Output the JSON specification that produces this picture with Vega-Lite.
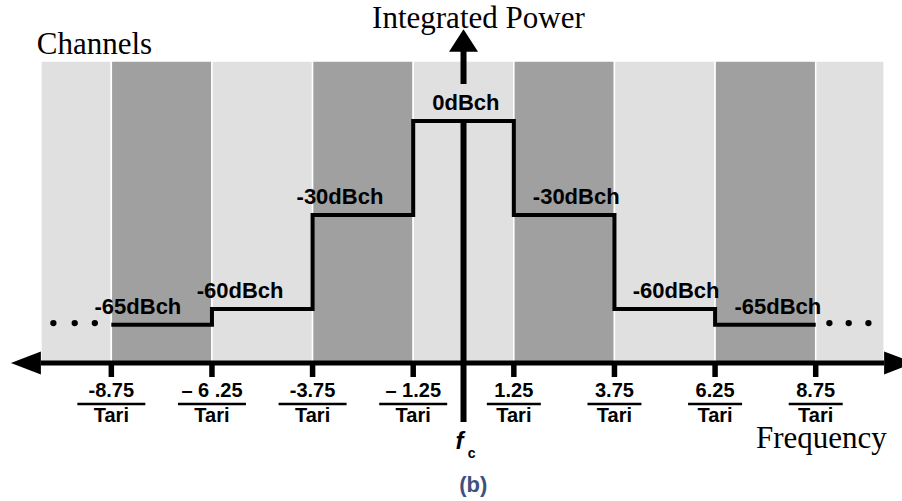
{
  "$schema": "https://vega.github.io/schema/vega-lite/v6.json",
  "width": 902,
  "height": 501,
  "padding": 0,
  "autosize": {"type": "none"},
  "background": "white",
  "config": {"view": {"stroke": null}},
  "datasets": {
    "channels": [
      {"f0": -10.5, "f1": -8.75, "shade": "light"},
      {"f0": -8.75, "f1": -6.25, "shade": "dark"},
      {"f0": -6.25, "f1": -3.75, "shade": "light"},
      {"f0": -3.75, "f1": -1.25, "shade": "dark"},
      {"f0": -1.25, "f1": 1.25, "shade": "light"},
      {"f0": 1.25, "f1": 3.75, "shade": "dark"},
      {"f0": 3.75, "f1": 6.25, "shade": "light"},
      {"f0": 6.25, "f1": 8.75, "shade": "dark"},
      {"f0": 8.75, "f1": 10.45, "shade": "light"}
    ],
    "mask": [
      {"f": -8.75, "dBch": -65},
      {"f": -6.25, "dBch": -60},
      {"f": -3.75, "dBch": -30},
      {"f": -1.25, "dBch": 0},
      {"f": 1.25, "dBch": -30},
      {"f": 3.75, "dBch": -60},
      {"f": 6.25, "dBch": -65},
      {"f": 8.75, "dBch": -65}
    ],
    "levels": [
      {"f": 0.06, "dBch": 0, "text": "0dBch"},
      {"f": -3.07, "dBch": -30, "text": "-30dBch"},
      {"f": 2.8, "dBch": -30, "text": "-30dBch"},
      {"f": -5.55, "dBch": -60, "text": "-60dBch"},
      {"f": 5.28, "dBch": -60, "text": "-60dBch"},
      {"f": -8.09, "dBch": -65, "text": "-65dBch"},
      {"f": 7.81, "dBch": -65, "text": "-65dBch"}
    ],
    "ellipsis": [
      {"f": -10.19, "dBch": -64.5},
      {"f": -9.66, "dBch": -64.5},
      {"f": -9.16, "dBch": -64.5},
      {"f": 9.09, "dBch": -64.5},
      {"f": 9.57, "dBch": -64.5},
      {"f": 10.06, "dBch": -64.5}
    ],
    "ticks": [
      {"f": -8.75, "num": "-8.75"},
      {"f": -6.25, "num": "– 6 .25"},
      {"f": -3.75, "num": "-3.75"},
      {"f": -1.25, "num": "– 1.25"},
      {"f": 1.25, "num": "1.25"},
      {"f": 3.75, "num": "3.75"},
      {"f": 6.25, "num": "6.25"},
      {"f": 8.75, "num": "8.75"}
    ],
    "powerAxis": [
      {"top": 22.5, "bottom": 11.8},
      {"top": 0, "bottom": -96.06}
    ],
    "one": [{}]
  },
  "layer": [
    {
      "data": {"name": "channels"},
      "mark": {"type": "rect", "stroke": "white", "strokeWidth": 1.5},
      "encoding": {
        "x": {"field": "f0", "type": "quantitative", "axis": null,
              "scale": {"domain": [-11.516, 10.894], "nice": false, "zero": false}},
        "x2": {"field": "f1"},
        "y": {"datum": 19.15, "type": "quantitative", "axis": null,
              "scale": {"domain": [-121.28, 38.617], "nice": false, "zero": false}},
        "y2": {"datum": -77.2},
        "color": {"field": "shade", "type": "nominal", "legend": null,
                  "scale": {"domain": ["light", "dark"], "range": ["#e0e0e0", "#a0a0a0"]}}
      }
    },
    {
      "data": {"name": "one"},
      "mark": {"type": "rule", "color": "black", "strokeWidth": 5},
      "encoding": {
        "x": {"datum": -10.5, "type": "quantitative"},
        "x2": {"datum": 10.45},
        "y": {"datum": -77.2, "type": "quantitative"}
      }
    },
    {
      "data": {"name": "one"},
      "mark": {"type": "point", "filled": true, "color": "black", "opacity": 1, "size": 900,
               "shape": "M0,-0.767L0,0.767L-2,0Z"},
      "encoding": {
        "x": {"datum": -10.5, "type": "quantitative"},
        "y": {"datum": -77.2, "type": "quantitative"}
      }
    },
    {
      "data": {"name": "one"},
      "mark": {"type": "point", "filled": true, "color": "black", "opacity": 1, "size": 900,
               "shape": "M0,-0.767L0,0.767L2,0Z"},
      "encoding": {
        "x": {"datum": 10.45, "type": "quantitative"},
        "y": {"datum": -77.2, "type": "quantitative"}
      }
    },
    {
      "data": {"name": "powerAxis"},
      "mark": {"type": "rule", "color": "black", "strokeWidth": 6},
      "encoding": {
        "x": {"datum": 0, "type": "quantitative"},
        "y": {"field": "top", "type": "quantitative"},
        "y2": {"field": "bottom"}
      }
    },
    {
      "data": {"name": "one"},
      "mark": {"type": "point", "filled": true, "color": "black", "opacity": 1, "size": 841,
               "shape": "M-1,0L1,0L0,-1.545Z"},
      "encoding": {
        "x": {"datum": 0, "type": "quantitative"},
        "y": {"datum": 22.12, "type": "quantitative"}
      }
    },
    {
      "data": {"name": "ticks"},
      "mark": {"type": "rule", "color": "black", "strokeWidth": 5.5},
      "encoding": {
        "x": {"field": "f", "type": "quantitative"},
        "y": {"datum": -77.2, "type": "quantitative"},
        "y2": {"datum": -81.7}
      }
    },
    {
      "data": {"name": "ticks"},
      "mark": {"type": "text", "font": "Liberation Sans", "fontWeight": "bold", "fontSize": 20,
               "align": "center", "baseline": "alphabetic", "color": "black"},
      "encoding": {
        "x": {"field": "f", "type": "quantitative"},
        "y": {"datum": -88.1, "type": "quantitative"},
        "text": {"field": "num"}
      }
    },
    {
      "data": {"name": "ticks"},
      "mark": {"type": "tick", "orient": "horizontal", "color": "black", "thickness": 2.5, "opacity": 1},
      "encoding": {
        "x": {"field": "f", "type": "quantitative"},
        "y": {"datum": -90.32, "type": "quantitative"},
        "size": {"condition": {"test": "datum.f < 0", "value": 68}, "value": 54}
      }
    },
    {
      "data": {"name": "ticks"},
      "mark": {"type": "text", "font": "Liberation Sans", "fontWeight": "bold", "fontSize": 20,
               "align": "center", "baseline": "alphabetic", "color": "black", "text": "Tari"},
      "encoding": {
        "x": {"field": "f", "type": "quantitative"},
        "y": {"datum": -96.06, "type": "quantitative"}
      }
    },
    {
      "data": {"name": "mask"},
      "mark": {"type": "line", "interpolate": "step-after", "color": "black", "strokeWidth": 4,
               "strokeJoin": "miter"},
      "encoding": {
        "x": {"field": "f", "type": "quantitative"},
        "y": {"field": "dBch", "type": "quantitative"}
      }
    },
    {
      "data": {"name": "ellipsis"},
      "mark": {"type": "circle", "color": "black", "opacity": 1, "size": 40},
      "encoding": {
        "x": {"field": "f", "type": "quantitative"},
        "y": {"field": "dBch", "type": "quantitative"}
      }
    },
    {
      "data": {"name": "levels"},
      "mark": {"type": "text", "font": "Liberation Sans", "fontWeight": "bold", "fontSize": 22,
               "align": "center", "baseline": "alphabetic", "dy": -11, "color": "black"},
      "encoding": {
        "x": {"field": "f", "type": "quantitative"},
        "y": {"field": "dBch", "type": "quantitative"},
        "text": {"field": "text"}
      }
    },
    {
      "data": {"name": "one"},
      "mark": {"type": "text", "font": "Liberation Sans", "fontWeight": "bold", "fontStyle": "italic",
               "fontSize": 24, "align": "center", "baseline": "alphabetic", "color": "black", "text": "f"},
      "encoding": {
        "x": {"datum": -0.1, "type": "quantitative"},
        "y": {"datum": -104.68, "type": "quantitative"}
      }
    },
    {
      "data": {"name": "one"},
      "mark": {"type": "text", "font": "Liberation Sans", "fontWeight": "bold",
               "fontSize": 14, "align": "center", "baseline": "alphabetic", "color": "black", "text": "c"},
      "encoding": {
        "x": {"datum": 0.2, "type": "quantitative"},
        "y": {"datum": -107.4, "type": "quantitative"}
      }
    },
    {
      "data": {"name": "one"},
      "mark": {"type": "text", "font": "Liberation Serif", "fontSize": 31,
               "align": "center", "baseline": "alphabetic", "color": "black", "text": "Channels"},
      "encoding": {
        "x": {"datum": -9.17, "type": "quantitative"},
        "y": {"datum": 21.3, "type": "quantitative"}
      }
    },
    {
      "data": {"name": "one"},
      "mark": {"type": "text", "font": "Liberation Serif", "fontSize": 31,
               "align": "center", "baseline": "alphabetic", "color": "black", "text": "Integrated Power"},
      "encoding": {
        "x": {"datum": 0.37, "type": "quantitative"},
        "y": {"datum": 29.6, "type": "quantitative"}
      }
    },
    {
      "data": {"name": "one"},
      "mark": {"type": "text", "font": "Liberation Serif", "fontSize": 31,
               "align": "center", "baseline": "alphabetic", "color": "black", "text": "Frequency"},
      "encoding": {
        "x": {"datum": 8.89, "type": "quantitative"},
        "y": {"datum": -104.3, "type": "quantitative"}
      }
    },
    {
      "data": {"name": "one"},
      "mark": {"type": "text", "font": "Liberation Sans", "fontWeight": "bold", "fontSize": 22,
               "align": "center", "baseline": "alphabetic", "color": "#3e5080", "text": "(b)"},
      "encoding": {
        "x": {"datum": 0.24, "type": "quantitative"},
        "y": {"datum": -118.4, "type": "quantitative"}
      }
    }
  ]
}
